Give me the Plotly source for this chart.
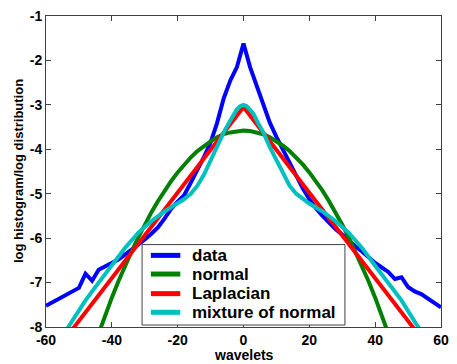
import plotly.graph_objects as go

# ---- data ----
data_x = [-60,-58,-56,-54,-52,-50,-48,-46,-44,-42,-40,-38,-36,-34,-32,-30,-28,-26,-24,-22,-20,-18,-16,-14,-12,-10,-8,-6,-4,-2,0,
          2,4,6,8,10,12,14,16,18,20,22,24,26,28,30,32,34,36,38,40,42,44,46,48,50,52,54,56,58,60]
data_y = [-7.52,-7.44,-7.34,-7.27,-7.18,-7.12,-6.80,-6.96,-6.71,-6.64,-6.57,-6.48,-6.37,-6.26,-6.15,-6.03,-5.90,-5.76,-5.56,-5.34,-5.18,-5.03,-4.75,-4.48,-4.17,-3.85,-3.40,-2.85,-2.45,-2.15,-1.62,
          -2.15,-2.55,-2.98,-3.40,-3.72,-4.02,-4.28,-4.62,-4.88,-5.12,-5.33,-5.50,-5.66,-5.80,-5.92,-6.06,-6.18,-6.30,-6.44,-6.56,-6.66,-6.76,-6.92,-6.88,-7.10,-7.20,-7.26,-7.36,-7.46,-7.56]

normal_x = [-46,-44,-42,-40,-38,-36,-34,-32,-30,-28,-26,-24,-22,-20,-18,-16,-14,-12,-10,-8,-6,-4,-2,0,
            2,4,6,8,10,12,14,16,18,20,22,24,26,28,30,32,34,36,38,40,42,44,46]
normal_y = [-8.55,-8.13,-7.72,-7.34,-6.97,-6.62,-6.30,-5.99,-5.70,-5.42,-5.17,-4.93,-4.72,-4.52,-4.34,-4.18,-4.04,-3.92,-3.82,-3.73,-3.66,-3.62,-3.59,-3.58,
            -3.59,-3.62,-3.66,-3.73,-3.82,-3.92,-4.04,-4.18,-4.34,-4.52,-4.72,-4.93,-5.17,-5.42,-5.70,-5.99,-6.30,-6.62,-6.97,-7.34,-7.72,-8.13,-8.55]

laplace_x = [-56,-40,-20,0,20,40,56]
laplace_y = [-8.44,-6.90,-4.98,-3.05,-4.98,-6.90,-8.44]

mixture_x = [-56,-52,-48,-44,-40,-36,-32,-28,-24,-20,-18,-16,-14,-12,-10,-8,-6,-4,-3,-2,-1,0,
             1,2,3,4,6,8,10,12,14,16,18,20,24,28,32,36,40,44,48,52,56]
mixture_y = [-8.32,-7.88,-7.40,-7.00,-6.62,-6.22,-5.88,-5.62,-5.40,-5.22,-5.12,-5.00,-4.82,-4.57,-4.25,-3.95,-3.62,-3.35,-3.20,-3.10,-3.03,-3.00,
             -3.03,-3.10,-3.20,-3.35,-3.62,-3.95,-4.25,-4.57,-4.82,-5.00,-5.12,-5.22,-5.40,-5.62,-5.88,-6.22,-6.62,-7.00,-7.40,-7.88,-8.32]

series_names = ["data", "normal", "Laplacian", "mixture of normal"]
series_colors = ["#0000ff", "#008000", "#ff0000", "#00bfbf"]

x_ticks = [-60, -40, -20, 0, 20, 40, 60]
y_ticks = [-8, -7, -6, -5, -4, -3, -2, -1]

font_family = "Liberation Sans, Arial, sans-serif"

fig = go.Figure()
for name, xs, ys, col in zip(series_names,
                             [data_x, normal_x, laplace_x, mixture_x],
                             [data_y, normal_y, laplace_y, mixture_y],
                             series_colors):
    fig.add_trace(go.Scatter(x=xs, y=ys, mode="lines", name=name, showlegend=False,
                             line=dict(color=col, width=4)))

axis_common = dict(showline=True, linecolor="#404040", linewidth=1, mirror="ticks",
                   ticks="inside", ticklen=5, tickcolor="#404040", showgrid=False,
                   zeroline=False, tickfont=dict(family=font_family, size=14, color="black"))

fig.update_layout(
    width=457, height=364, autosize=False,
    margin=dict(l=46, r=8, t=10, b=37),
    paper_bgcolor="white", plot_bgcolor="white",
    font=dict(family=font_family, color="black"),
    xaxis=dict(range=[-60, 60], tickvals=x_ticks, ticktext=["<b>%d</b>" % v for v in x_ticks],
               **axis_common),
    yaxis=dict(range=[-8, -1], tickvals=y_ticks, ticktext=["<b>%d</b>" % v for v in y_ticks],
               **axis_common),
    showlegend=False,
)

# axis titles
fig.add_annotation(text="<b>wavelets</b>", xref="paper", yref="paper", x=0.5, y=-0.0915,
                   xanchor="center", yanchor="middle", showarrow=False,
                   font=dict(family=font_family, size=14, color="black"))
fig.add_annotation(text="<b>log histogram/log distribution</b>", xref="paper", yref="paper",
                   x=-0.0695, y=0.5, xanchor="center", yanchor="middle", textangle=-90,
                   showarrow=False, font=dict(family=font_family, size=13, color="black"))

# legend box (drawn manually to match the compact original)
lx0, lx1, ly0, ly1 = 0.2432, 0.7568, 0.0063, 0.265
fig.add_shape(type="rect", xref="paper", yref="paper", x0=lx0, x1=lx1, y0=ly0, y1=ly1,
              line=dict(color="#404040", width=1), fillcolor="white", layer="above")
row_y = [0.2303, 0.1703, 0.1073, 0.0473]
for name, col, ry in zip(series_names, series_colors, row_y):
    fig.add_shape(type="line", xref="paper", yref="paper", x0=0.2655, x1=0.3400, y0=ry, y1=ry,
                  line=dict(color=col, width=5), layer="above")
    fig.add_annotation(text="<b>%s</b>" % name, xref="paper", yref="paper", x=0.3648, y=ry,
                       xanchor="left", yanchor="middle", showarrow=False,
                       font=dict(family=font_family, size=17, color="black"))

fig.write_html(
    "out.html",
    config={"displayModeBar": False, "responsive": False},
    post_script="document.body.style.margin='0';document.body.style.overflow='hidden';"
                "document.documentElement.style.overflow='hidden';",
)
